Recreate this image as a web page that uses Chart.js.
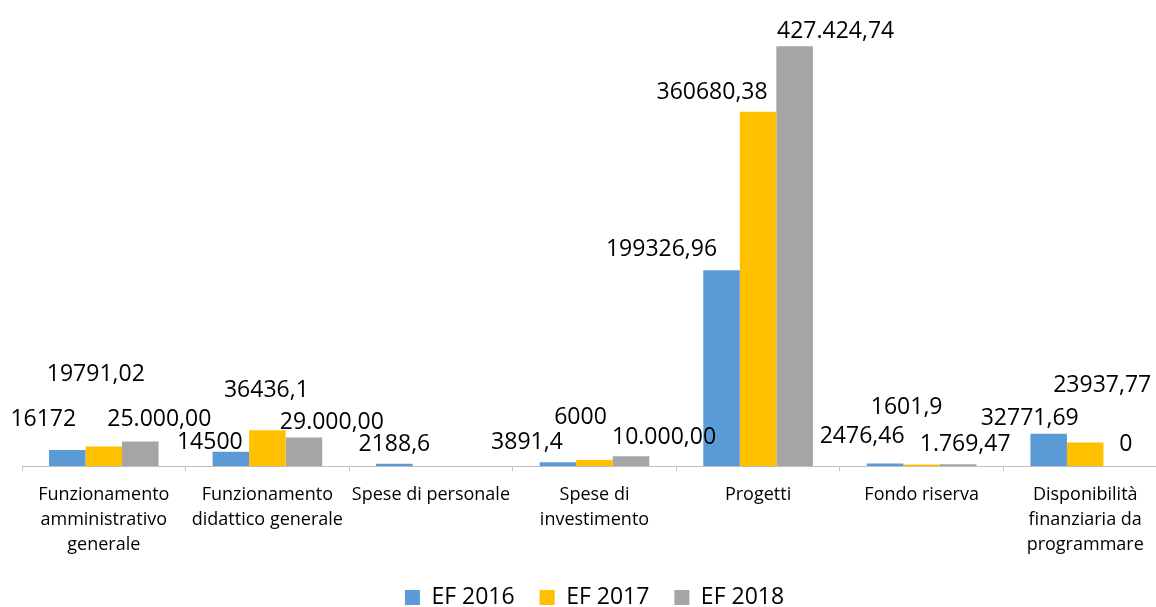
<!DOCTYPE html>
<html><head><meta charset="utf-8">
<script src="https://cdn.jsdelivr.net/npm/chart.js@4.4.1/dist/chart.umd.min.js"></script>
<style>
html,body{margin:0;padding:0;background:#fff;overflow:hidden;width:1156px;height:607px;}
#wrap{position:relative;width:1170px;height:619px;}
</style></head><body>
<div id="wrap"><canvas id="c"></canvas></div>
<script>
const categories = [
  ['Funzionamento','amministrativo','generale'],
  ['Funzionamento','didattico generale'],
  ['Spese di personale'],
  ['Spese di','investimento'],
  ['Progetti'],
  ['Fondo riserva'],
  ['Disponibilità','finanziaria da','programmare']
];
const seriesNames = ['EF 2016', 'EF 2017', 'EF 2018'];
const ef2016 = [16172, 14500, 2188.6, 3891.4, 199326.96, 2476.46, 32771.69];
const ef2017 = [19791.02, 36436.1, null, 6000, 360680.38, 1601.9, 23937.77];
const ef2018 = [25000, 29000, null, 10000, 427424.74, 1769.47, 0];
const labels2016 = ['16172', '14500', '2188,6', '3891,4', '199326,96', '2476,46', '32771,69'];
const labels2017 = ['19791,02', '36436,1', '', '6000', '360680,38', '1601,9', '23937,77'];
const labels2018 = ['25.000,00', '29.000,00', '', '10.000,00', '427.424,74', '1.769,47', '0'];

// manual label nudges (px, relative to each bar's top centre), as placed in the original
const labelNudge = {
  dx: [[-24,-21,0,-31,-60,-23,-19],[-8,-1,0,-14,-46,-15,17],[19,28,0,33,41,7,4]],
  dy: [[-32,-11,-21,-21,-22,-29,-17],[-74,-41,0,-44,-21,-58,-58],[-23,-17,0,-20,-16,-21,-23]]
};

const valueLabels = {
  id: 'valueLabels',
  afterDatasetsDraw(chart) {
    const ctx = chart.ctx;
    const texts = [labels2016, labels2017, labels2018];
    ctx.save();
    ctx.font = '23px "Open Sans"';
    ctx.fillStyle = '#000';
    ctx.textAlign = 'center';
    ctx.textBaseline = 'alphabetic';
    chart.data.datasets.forEach((ds, i) => {
      const meta = chart.getDatasetMeta(i);
      meta.data.forEach((el, j) => {
        const t = texts[i][j];
        if (!t) return;
        const x = el.x + labelNudge.dx[i][j];
        const y = el.y + labelNudge.dy[i][j] + 8;
        ctx.fillText(t, x, y);
      });
    });
    ctx.restore();
  }
};

Chart.defaults.font.family = '"Open Sans"';
new Chart(document.getElementById('c'), {
  type: 'bar',
  data: {
    labels: categories,
    datasets: [
      { label: seriesNames[0], data: ef2016, backgroundColor: '#5B9BD5' },
      { label: seriesNames[1], data: ef2017, backgroundColor: '#FFC000' },
      { label: seriesNames[2], data: ef2018, backgroundColor: '#A5A5A5' }
    ]
  },
  options: {
    responsive: true,
    maintainAspectRatio: false,
    animation: false,
    datasets: { bar: { categoryPercentage: 0.67, barPercentage: 1.0 } },
    layout: { padding: { top: 24, left: 22, right: 3, bottom: 0 } },
    scales: {
      x: {
        grid: { display: true, drawOnChartArea: false, drawTicks: true, tickLength: 5, color: '#bfbfbf', offset: true },
        border: { display: true, color: '#bfbfbf', width: 1 },
        ticks: { autoSkip: false, maxRotation: 0, minRotation: 0, padding: 11, color: '#000',
                 font: { family: '"Open Sans"', size: 18, lineHeight: '25px' } },
        afterFit(scale) { scale.height = 95; }
      },
      y: { display: false, min: 0, max: 450000 }
    },
    plugins: {
      legend: {
        position: 'bottom',
        fullSize: false,
        labels: { boxWidth: 15, boxHeight: 15, padding: 25, color: '#000',
                  font: { family: '"Open Sans"', size: 23 } }
      },
      tooltip: { enabled: false }
    }
  },
  plugins: [valueLabels]
});
</script>
</body></html>
